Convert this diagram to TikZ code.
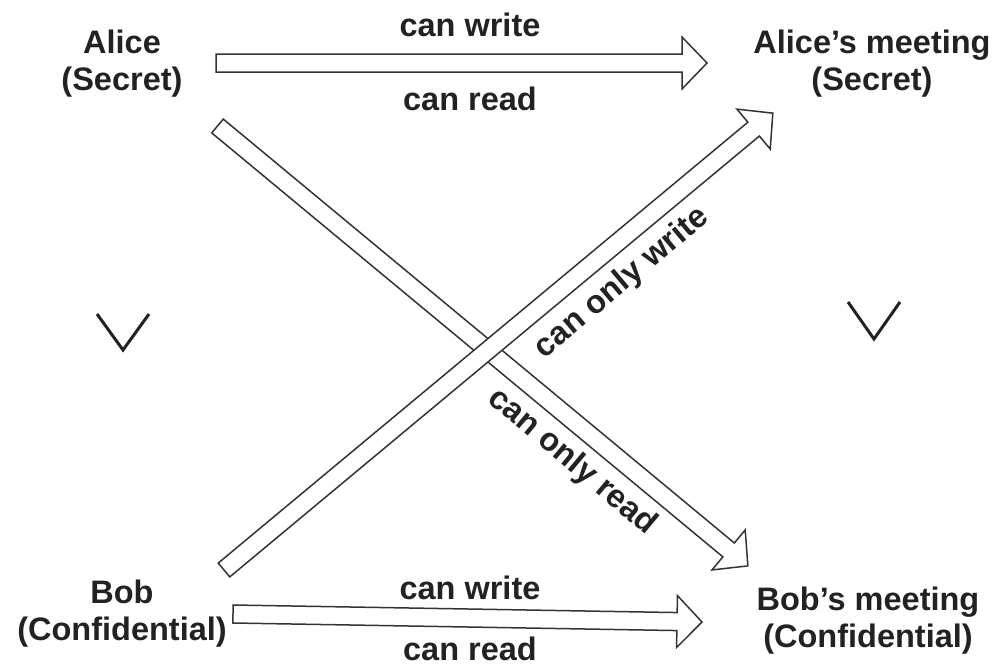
\documentclass[tikz,border=0pt]{standalone}
\usepackage{fontspec}
\setmainfont{Liberation Sans}
\usetikzlibrary{calc}
\definecolor{ink}{HTML}{222222}
\definecolor{edge}{HTML}{333333}
\tikzset{
  lbl/.style={font=\bfseries\fontsize{32.5}{37}\selectfont, text=ink, align=center, inner sep=0pt},
  blockline/.style={draw=edge, line width=1.5pt, fill=white, line join=miter},
  vee/.style={draw=ink, line width=3pt}
}
\newcommand\blockarrow[2]{%
  \draw[blockline] let \p1=(#1), \p2=(#2),
    \n1={atan2(\y2-\y1,\x2-\x1)}, \n2={veclen(\x2-\x1,\y2-\y1)} in
    [shift={(\x1,\y1)}, rotate=\n1]
    (0pt,-9pt) -- (\n2-25pt,-9pt) -- (\n2-25pt,-26pt) -- (\n2,0pt)
    -- (\n2-25pt,26pt) -- (\n2-25pt,9pt) -- (0pt,9pt) -- cycle;}
\begin{document}
\begin{tikzpicture}[x=1pt,y=-1pt]
\useasboundingbox (0,0) rectangle (997,664);
% labels
\node[lbl] (alice) at (122,64) {Alice\\(Secret)};
\node[lbl] (am) at (872,64) {Alice's meeting\\(Secret)};
\node[lbl] (bob) at (122,614) {Bob\\(Confidential)};
\node[lbl] (bm) at (868,621) {Bob's meeting\\(Confidential)};
% arrow endpoints
\coordinate (a1) at (216,63);   \coordinate (a2) at (707,63);
\coordinate (b1) at (233,614);  \coordinate (b2) at (702,622);
\coordinate (c1) at (217.5,126);\coordinate (c2) at (748,566);
\coordinate (d1) at (224,570);  \coordinate (d2) at (773,113);
\blockarrow{c1}{c2}
\blockarrow{d1}{d2}
\blockarrow{a1}{a2}
\blockarrow{b1}{b2}
% arrow labels
\node[lbl] (aw) at (470,25) {can write};
\node[lbl] (ar) at (470,99) {can read};
\node[lbl] (bw) at (470,588) {can write};
\node[lbl] (br) at (470,649) {can read};
\node[lbl, rotate=40] (ow) at (622,283) {can only write};
\node[lbl, rotate=-40] (or) at (572,462) {can only read};
% dominance symbols
\draw[vee] (97,314) -- (123,350) -- (149,314);
\draw[vee] (848,302) -- (874,339) -- (900,302);
\end{tikzpicture}
\end{document}
